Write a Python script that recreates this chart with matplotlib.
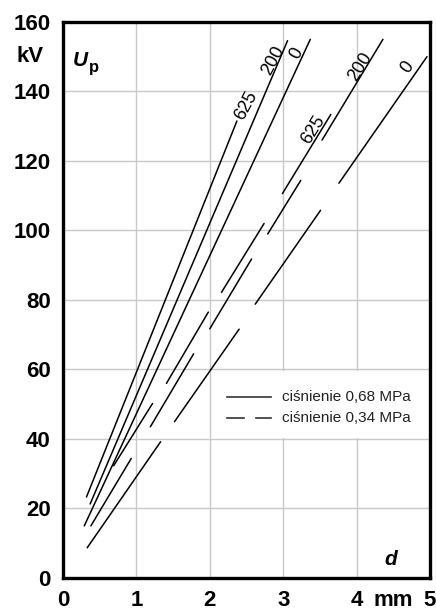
import matplotlib

matplotlib.use("Agg")
import matplotlib.pyplot as plt
from matplotlib.patches import Rectangle

plt.rcParams["font.family"] = ["Liberation Sans", "DejaVu Sans"]

# Breakdown voltage U_p (kV) vs gap d (mm). Each series is a list of drawn
# segments, each segment given as (d, U) end points.
SOLID_625 = [[(0.32, 23.3), (2.37, 131.5)]]
SOLID_200 = [[(0.37, 21.3), (3.06, 154.6)]]
SOLID_0 = [[(0.29, 15.0), (3.37, 155.0)]]

DASHED_625 = [
    [(0.69, 32.3), (1.22, 50.2)],
    [(1.41, 56.0), (1.98, 76.5)],
    [(2.16, 82.2), (2.74, 102.0)],
    [(2.99, 110.6), (3.65, 133.4)],
]
DASHED_200 = [
    [(0.38, 15.0), (0.93, 34.4)],
    [(1.19, 43.5), (1.78, 64.5)],
    [(2.00, 71.7), (2.57, 91.8)],
    [(2.79, 99.0), (3.24, 114.4)],
    [(3.53, 126.0), (4.36, 155.0)],
]
DASHED_0 = [
    [(0.33, 8.7), (1.33, 39.2)],
    [(1.52, 45.0), (2.40, 71.6)],
    [(2.62, 78.8), (3.51, 105.8)],
    [(3.76, 113.6), (4.96, 150.0)],
]

# curve labels: text, position (d, U), rotation in degrees
CURVE_LABELS = [
    ("625", (2.50, 136.0), 62),
    ("200", (2.87, 149.0), 62),
    ("0", (3.18, 151.0), 62),
    ("625", (3.41, 129.0), 58),
    ("200", (4.05, 147.0), 58),
    ("0", (4.69, 147.0), 55),
]

X_TICKS = [0, 1, 2, 3, 4, 5]
Y_TICKS = [0, 20, 40, 60, 80, 100, 120, 140, 160]
LEGEND_TEXT = ["ciśnienie 0,68 MPa", "ciśnienie 0,34 MPa"]


def draw_series(ax, segments):
    for seg in segments:
        xs = [p[0] for p in seg]
        ys = [p[1] for p in seg]
        ax.plot(xs, ys, color="black", lw=1.1, solid_capstyle="round", zorder=3)


fig = plt.figure(figsize=(4.36, 6.10), dpi=100)
ax = fig.add_axes([0.1445, 0.0525, 0.8415, 0.9115])
ax.set_xlim(0, 5)
ax.set_ylim(0, 160)

ax.set_xticks(X_TICKS)
ax.set_yticks(Y_TICKS)
ax.set_xticklabels([str(t) for t in X_TICKS], fontsize=16, fontweight="bold")
ax.set_yticklabels([str(t) for t in Y_TICKS], fontsize=16, fontweight="bold")
ax.tick_params(axis="x", length=0, pad=9)
ax.tick_params(axis="y", length=0, pad=9)
ax.grid(True, color="#c8c8c8", lw=1.0, zorder=0)
ax.set_axisbelow(True)
for sp in ax.spines.values():
    sp.set_linewidth(2.4)

for series in (SOLID_625, SOLID_200, SOLID_0, DASHED_625, DASHED_200, DASHED_0):
    draw_series(ax, series)

for text, (d, u), rot in CURVE_LABELS:
    ax.text(d, u, text, rotation=rot, ha="center", va="center",
            fontsize=13, color="black", zorder=4)

# unit labels and axis symbols
ax.text(-0.27, 150, "kV", ha="right", va="center",
        fontsize=16, fontweight="bold", clip_on=False)
ax.text(4.5, -6.6, "mm", ha="center", va="center", fontsize=16,
        fontweight="bold", clip_on=False)
ax.text(0.14, 149, "U", ha="left", va="center", fontsize=15,
        fontweight="bold", fontstyle="italic")
ax.text(0.36, 146.8, "p", ha="left", va="center", fontsize=12, fontweight="bold")
ax.text(4.47, 5.2, "d", ha="center", va="center", fontsize=15,
        fontweight="bold", fontstyle="italic")

# legend on a white patch that hides the grid
ax.add_patch(Rectangle((2.03, 40.3), 2.97, 19.4, facecolor="white",
                       edgecolor="none", zorder=1))
ax.plot([2.24, 2.83], [52.1, 52.1], color="#333333", lw=1.2, zorder=3)
ax.plot([2.24, 2.46], [46.0, 46.0], color="#333333", lw=1.2, zorder=3)
ax.plot([2.63, 2.83], [46.0, 46.0], color="#333333", lw=1.2, zorder=3)
ax.text(2.99, 52.1, LEGEND_TEXT[0], ha="left", va="center", fontsize=11,
        color="#222222", zorder=3)
ax.text(2.99, 46.0, LEGEND_TEXT[1], ha="left", va="center", fontsize=11,
        color="#222222", zorder=3)

fig.savefig("out.png", dpi=100)
